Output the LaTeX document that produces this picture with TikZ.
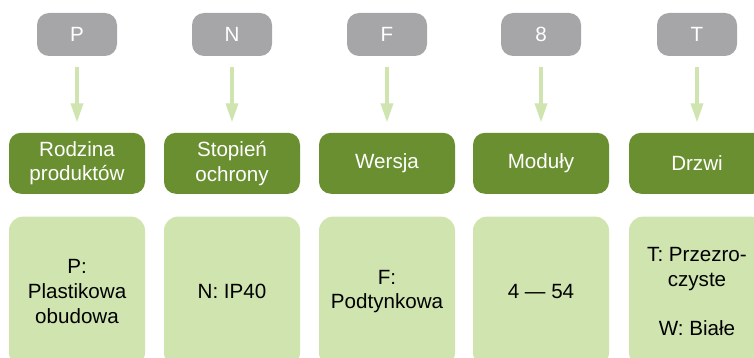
\documentclass[tikz,border=0pt]{standalone}
\usepackage{fontspec}
\setmainfont{Liberation Sans}
\usepackage{tikz}
\usetikzlibrary{positioning}
\usetikzlibrary{arrows.meta}

\definecolor{codegray}{HTML}{A6A6A8}
\definecolor{famgreen}{HTML}{6A8F31}
\definecolor{palegreen}{HTML}{D0E4B0}

\tikzset{
	code/.style={fill=codegray, rounded corners=6pt, minimum width=40pt, minimum height=21.5pt, text=white, inner sep=0pt},
	field/.style={fill=famgreen, rounded corners=6pt, minimum width=68pt, minimum height=30.5pt, text=white, align=center, inner sep=0pt},
	option/.style={fill=palegreen, rounded corners=7pt, minimum width=68pt, minimum height=75pt, text=black, align=center, inner sep=0pt},
	link/.style={palegreen, line width=1.75pt, -{Triangle[length=9.5pt,width=6pt]}, shorten <=5.5pt, shorten >=5pt}
}

\begin{document}
\begin{tikzpicture}[x=0.5pt, y=-0.5pt, font=\fontsize{10.3}{12.3}\selectfont]
							\useasboundingbox (0,0) rectangle (754,358);
							\clip (0,0) rectangle (754,358);

							% letters of the code
							\node[code] (p) at (77,34.5) {P};
							\node[code] (n) at (232,34.5) {N};
							\node[code] (f) at (387,34.5) {F};
							\node[code] (m) at (541,34.5) {8};
							\node[code] (t) at (697,34.5) {T};

							% what each letter means
							\node[field, below=38pt of p] (pfield) {Rodzina\\produktów};
							\node[field, below=38pt of n] (nfield) {Stopień\\ochrony};
							\node[field, below=38pt of f] (ffield) {Wersja};
							\node[field, below=38pt of m] (mfield) {Moduły};
							\node[field, below=38pt of t] (tfield) {Drzwi};

							% possible values
							\node[option, below=11pt of pfield] (popt) {P:\\Plastikowa\\obudowa};
							\node[option, below=11pt of nfield] (nopt) {N: IP40};
							\node[option, below=11pt of ffield] (fopt) {F:\\Podtynkowa};
							\node[option, below=11pt of mfield] (mopt) {4 — 54};
							\node[option, below=11pt of tfield] (topt) {T: Przezro-\\czyste\\[12.3pt]W: Białe};

							\draw[link] (p) -- (pfield);
							\draw[link] (n) -- (nfield);
							\draw[link] (f) -- (ffield);
							\draw[link] (m) -- (mfield);
							\draw[link] (t) -- (tfield);
						\end{tikzpicture}
\end{document}
